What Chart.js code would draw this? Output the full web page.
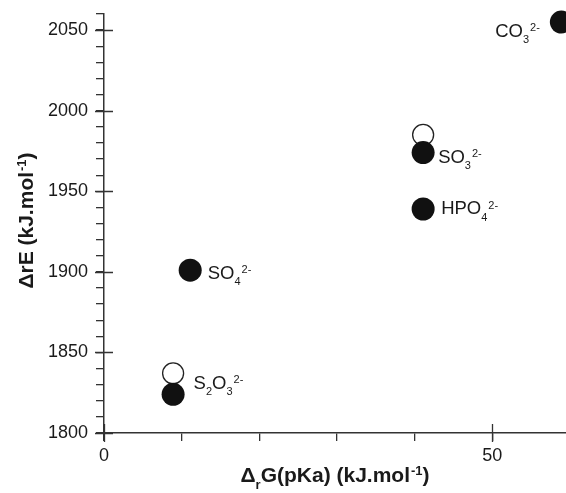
<!DOCTYPE html>
<html>
<head>
<meta charset="utf-8">
<script src="https://cdn.jsdelivr.net/npm/chart.js@4.4.0/dist/chart.umd.min.js"></script>
<style>
html, body { margin: 0; padding: 0; background: #fff; overflow: hidden; }
#wrap { width: 566px; height: 493px; }
</style>
</head>
<body>
<div id="wrap"><canvas id="grafica" width="566" height="493"></canvas></div>
<script>
// Datos (ΔrE frente a ΔrG(pKa))
const anionesLlenos = ['SO_{4}^{2-}', 'S_{2}O_{3}^{2-}', 'SO_{3}^{2-}', 'HPO_{4}^{2-}', 'CO_{3}^{2-}'];
const xLlenos = [11.1, 8.9, 41.1, 41.1, 58.9];
const yLlenos = [1901, 1824, 1974, 1939, 2055];
const xAbiertos = [8.9, 41.1];
const yAbiertos = [1837, 1985];
const ticksX = [0, 10, 20, 30, 40, 50];
const ticksY = [1800, 1810, 1820, 1830, 1840, 1850, 1860, 1870, 1880, 1890, 1900, 1910, 1920, 1930, 1940,
                1950, 1960, 1970, 1980, 1990, 2000, 2010, 2020, 2030, 2040, 2050, 2060];
const etiquetasX = [0, 50];
const etiquetasY = [1800, 1850, 1900, 1950, 2000, 2050];
const tituloX = 'Δ_{r}G(pKa) (kJ.mol^{-1})';
const tituloY = 'ΔrE (kJ.mol^{-1})';

const FUENTE = '"Liberation Sans", Arial, sans-serif';
const COLOR_EJE = '#333';
const COLOR_TEXTO = '#1a1a1a';

// posición de cada etiqueta respecto a su punto (dx, dy de la línea base)
const posEtiquetas = [
    { dx: 17.5, dy: 8.5, align: 'left' },
    { dx: 20.5, dy: -5, align: 'left' },
    { dx: 15, dy: 10, align: 'left' },
    { dx: 18, dy: 5.5, align: 'left' },
    { dx: -21.5, dy: 15, align: 'right' }
];

// separa 'SO_{4}^{2-}' en trozos normal / subíndice / superíndice
function partesFormula(texto) {
    const partes = [];
    let normal = '';
    let i = 0;
    while (i < texto.length) {
        const c = texto[i];
        if ((c === '_' || c === '^') && texto[i + 1] === '{') {
            const fin = texto.indexOf('}', i);
            if (normal) { partes.push({ t: normal, m: 'n' }); normal = ''; }
            partes.push({ t: texto.slice(i + 2, fin), m: c === '_' ? 'sub' : 'sup' });
            i = fin + 1;
        } else {
            normal += c;
            i++;
        }
    }
    if (normal) partes.push({ t: normal, m: 'n' });
    return partes;
}

function fuenteDe(m, size, peso) {
    const s = m === 'n' ? size : Math.round(size * 0.62);
    return peso + ' ' + s + 'px ' + FUENTE;
}

function anchoFormula(ctx, texto, size, peso) {
    let w = 0;
    partesFormula(texto).forEach(p => {
        ctx.font = fuenteDe(p.m, size, peso);
        w += ctx.measureText(p.t).width + (p.m === 'sup' ? 1 : 0);
    });
    return w;
}

function dibujarFormula(ctx, texto, x, y, size, peso) {
    ctx.textAlign = 'left';
    ctx.textBaseline = 'alphabetic';
    let cx = x;
    partesFormula(texto).forEach(p => {
        ctx.font = fuenteDe(p.m, size, peso);
        let dy = 0;
        if (p.m === 'sub') dy = size * 0.33;
        if (p.m === 'sup') { dy = -size * 0.32; cx += 1; }
        ctx.fillText(p.t, cx, y + dy);
        cx += ctx.measureText(p.t).width;
    });
}

const pluginDecoracion = {
    id: 'decoracion',
    afterDraw(chart) {
        const ctx = chart.ctx;
        const area = chart.chartArea;
        const sx = chart.scales.x;
        const sy = chart.scales.y;
        ctx.save();

        // marcas principales que cruzan el eje
        ctx.strokeStyle = COLOR_EJE;
        ctx.lineWidth = 1.3;
        ctx.beginPath();
        etiquetasY.forEach(v => {
            const py = Math.round(sy.getPixelForValue(v)) + 0.5;
            ctx.moveTo(area.left - 9, py);
            ctx.lineTo(area.left + 9, py);
        });
        etiquetasX.forEach(v => {
            const px = Math.round(sx.getPixelForValue(v)) + 0.5;
            ctx.moveTo(px, area.bottom + 9);
            ctx.lineTo(px, area.bottom - 9);
        });
        ctx.stroke();

        // etiquetas de los aniones
        ctx.fillStyle = COLOR_TEXTO;
        const meta = chart.getDatasetMeta(0);
        anionesLlenos.forEach((txt, i) => {
            const pt = meta.data[i];
            const pos = posEtiquetas[i];
            let x0 = pt.x + pos.dx;
            if (pos.align === 'right') x0 -= anchoFormula(ctx, txt, 18.5, 'normal');
            dibujarFormula(ctx, txt, x0, pt.y + pos.dy, 18.5, 'normal');
        });

        // título del eje x
        const wx = anchoFormula(ctx, tituloX, 21, 'bold');
        dibujarFormula(ctx, tituloX, (area.left + area.right) / 2 - wx / 2, 482, 21, 'bold');

        // título del eje y (rotado)
        const wy = anchoFormula(ctx, tituloY, 21, 'bold');
        ctx.translate(32.5, (area.top + area.bottom) / 2 - 3);
        ctx.rotate(-Math.PI / 2);
        dibujarFormula(ctx, tituloY, -wy / 2, 0, 21, 'bold');
        ctx.restore();
    }
};

// sin relleno automático de las escalas: el área queda fija
function sinRelleno(scale) {
    scale.paddingLeft = 0;
    scale.paddingRight = 0;
    scale.paddingTop = 0;
    scale.paddingBottom = 0;
}

const ctxGrafica = document.getElementById('grafica').getContext('2d');
new Chart(ctxGrafica, {
    type: 'scatter',
    data: {
        datasets: [
            {
                label: 'lleno',
                data: xLlenos.map((x, i) => ({ x: x, y: yLlenos[i] })),
                backgroundColor: '#111',
                borderColor: '#111',
                borderWidth: 0,
                pointRadius: 11.5,
                pointHoverRadius: 11.5,
                order: 0,
                clip: false
            },
            {
                label: 'abierto',
                data: xAbiertos.map((x, i) => ({ x: x, y: yAbiertos[i] })),
                backgroundColor: '#fff',
                borderColor: '#222',
                borderWidth: 1.3,
                pointRadius: 10.5,
                pointHoverRadius: 10.5,
                order: 1,
                clip: false
            }
        ]
    },
    options: {
        responsive: false,
        animation: false,
        events: [],
        layout: { autoPadding: false, padding: { top: 14, right: 0, left: 0, bottom: 0 } },
        plugins: { legend: { display: false }, tooltip: { enabled: false } },
        scales: {
            x: {
                type: 'linear',
                min: 0,
                max: 59.5,
                afterBuildTicks: scale => { scale.ticks = ticksX.map(v => ({ value: v })); },
                afterFit: scale => { scale.height = 60; sinRelleno(scale); },
                border: { display: true, color: COLOR_EJE, width: 1.5 },
                grid: { drawOnChartArea: false, drawTicks: true, tickLength: 8, color: COLOR_EJE, lineWidth: 1.3 },
                ticks: {
                    autoSkip: false,
                    maxRotation: 0,
                    padding: 4,
                    color: COLOR_TEXTO,
                    font: { family: FUENTE, size: 18 },
                    callback: v => etiquetasX.includes(v) ? String(v) : ''
                }
            },
            y: {
                type: 'linear',
                min: 1800,
                max: 2060,
                afterBuildTicks: scale => { scale.ticks = ticksY.map(v => ({ value: v })); },
                afterFit: scale => { scale.width = 104; sinRelleno(scale); },
                border: { display: true, color: COLOR_EJE, width: 1.5 },
                grid: { drawOnChartArea: false, drawTicks: true, tickLength: 8, color: COLOR_EJE, lineWidth: 1.3 },
                ticks: {
                    autoSkip: false,
                    padding: 8,
                    color: COLOR_TEXTO,
                    font: { family: FUENTE, size: 18 },
                    callback: v => etiquetasY.includes(v) ? String(v) : ''
                }
            }
        }
    },
    plugins: [pluginDecoracion]
});
</script>
</body>
</html>
